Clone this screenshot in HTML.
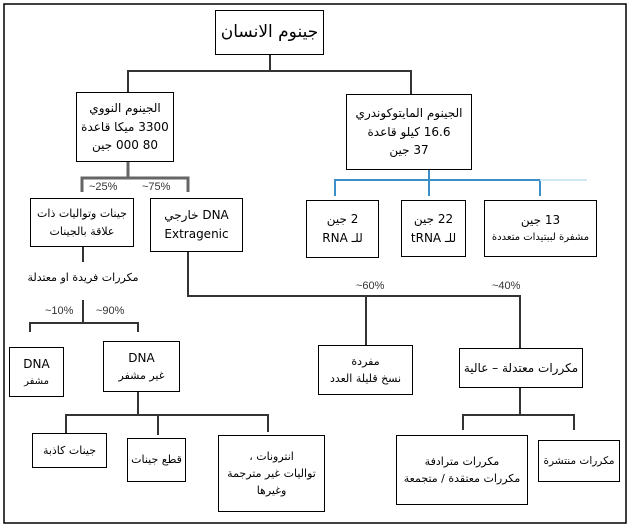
<!DOCTYPE html>
<html><head><meta charset="utf-8"><style>
body{margin:0;width:631px;height:528px;background:#fff;position:relative;overflow:hidden;font-family:"DejaVu Sans","Liberation Sans",sans-serif;}
.b{position:absolute;border:1.5px solid #000;box-sizing:border-box;display:flex;flex-direction:column;align-items:center;justify-content:center;text-align:center;font-size:11px;line-height:1.55;color:#000;background:#fff;direction:rtl;white-space:nowrap}
.t{position:absolute;font-size:11px;color:#333;font-family:"Liberation Sans",sans-serif}
.a{position:absolute;font-size:11px;direction:rtl;white-space:nowrap}
svg{position:absolute;left:0;top:0}
</style></head><body>
<svg width="631" height="528">
<rect x="4" y="4" width="622" height="519" fill="none" stroke="#000" stroke-width="1.5"/>
<g stroke="#333" stroke-width="2" fill="none">
<path d="M270 55V71M128 95V71H411V95"/>
<path d="M128 162V178M82 192V178H188V192" stroke="#666" stroke-width="3"/>
<path d="M83 247V262M83 300V323M30 332V323H138V332"/>
<path d="M188 252V296H520V348M366 296V345"/>
<path d="M138 392V415M66 435V415H268V432M158 415V435"/>
<path d="M520 388V415M463 430V415H574V430"/>
</g>
<path d="M429 170V180M335 196V180H540V196M429 180V196" stroke="#3a8fc8" stroke-width="2" fill="none"/>
<path d="M540 180H587" stroke="#cfe6f5" stroke-width="2"/>
</svg>
<div class="b" style="left:215px;top:10px;width:109px;height:45px;font-size:17px">جينوم الانسان</div>
<div class="b" style="left:76px;top:92px;width:98px;height:70px;font-size:12px"><div>الجينوم النووي</div><div>3300 ميكا قاعدة</div><div>80 000 جين</div></div>
<div class="b" style="left:346px;top:94px;width:126px;height:76px;font-size:12px"><div>الجينوم المايتوكوندري</div><div>16.6 كيلو قاعدة</div><div>37 جين</div></div>
<div class="t" style="left:89px;top:181px">~25%</div>
<div class="t" style="left:142px;top:181px">~75%</div>
<div class="b" style="left:30px;top:198px;width:104px;height:49px"><div>جينات وتواليات ذات</div><div>علاقة بالجينات</div></div>
<div class="b" style="left:150px;top:198px;width:93px;height:54px;font-size:12px"><div>DNA خارجي</div><div>Extragenic</div></div>
<div class="b" style="left:306px;top:200px;width:73px;height:58px;font-size:12px"><div>2 جين</div><div>للـ RNA</div></div>
<div class="b" style="left:401px;top:200px;width:65px;height:57px;font-size:12px"><div>22 جين</div><div>للـ tRNA</div></div>
<div class="b" style="left:484px;top:200px;width:113px;height:57px"><div style="font-size:12px">13 جين</div><div style="font-size:10px">مشفرة لببتيدات متعددة</div></div>
<div class="a" style="left:18px;top:271px;width:130px;text-align:center">مكررات فريدة او معتدلة</div>
<div class="t" style="left:45px;top:305px">~10%</div>
<div class="t" style="left:96px;top:305px">~90%</div>
<div class="t" style="left:356px;top:280px">~60%</div>
<div class="t" style="left:492px;top:280px">~40%</div>
<div class="b" style="left:9px;top:347px;width:55px;height:50px;font-size:12px"><div>DNA</div><div style="font-size:10px">مشفر</div></div>
<div class="b" style="left:103px;top:341px;width:77px;height:51px;font-size:12px"><div>DNA</div><div style="font-size:11px">غير مشفر</div></div>
<div class="b" style="left:318px;top:345px;width:95px;height:50px"><div>مفردة</div><div>نسخ قليلة العدد</div></div>
<div class="b" style="left:459px;top:348px;width:124px;height:40px;font-size:12px">مكررات معتدلة – عالية</div>
<div class="b" style="left:32px;top:433px;width:75px;height:35px">جينات كاذبة</div>
<div class="b" style="left:127px;top:438px;width:59px;height:44px">قطع جينات</div>
<div class="b" style="left:218px;top:435px;width:107px;height:77px"><div>انترونات ،</div><div>تواليات غير مترجمة</div><div>وغيرها</div></div>
<div class="b" style="left:396px;top:435px;width:132px;height:70px"><div>مكررات مترادفة</div><div>مكررات معتقدة / متجمعة</div></div>
<div class="b" style="left:538px;top:440px;width:82px;height:42px;font-size:10.5px">مكررات منتشرة</div>
</body></html>
